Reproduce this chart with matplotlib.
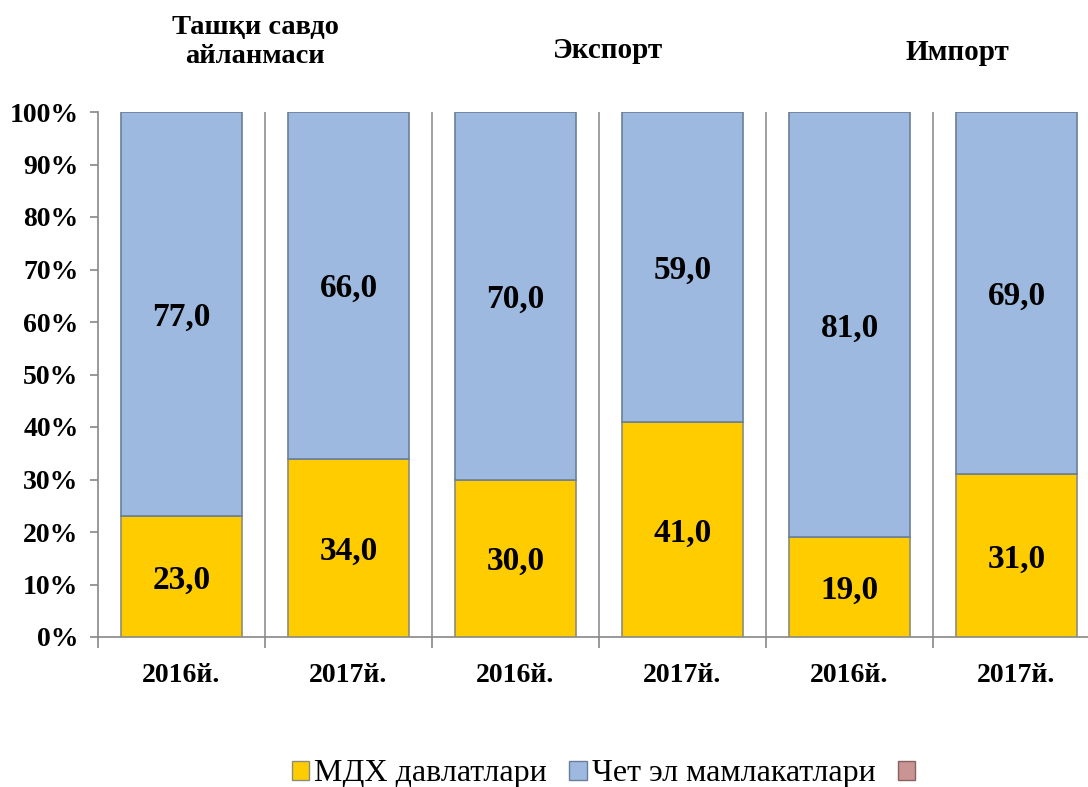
import matplotlib
matplotlib.use("Agg")
import matplotlib.pyplot as plt
from matplotlib.patches import Patch
import numpy as np

categories = ["2016й.", "2017й.", "2016й.", "2017й.", "2016й.", "2017й."]
mdh = [23.0, 34.0, 30.0, 41.0, 19.0, 31.0]
foreign = [77.0, 66.0, 70.0, 59.0, 81.0, 69.0]
group_titles = ["Ташқи савдо\nайланмаси", "Экспорт", "Импорт"]
series_names = ["МДХ давлатлари", "Чет эл мамлакатлари", ""]
yticks = [0, 10, 20, 30, 40, 50, 60, 70, 80, 90, 100]

plt.rcParams['font.family'] = ['Liberation Serif', 'DejaVu Serif']

fig = plt.figure(figsize=(10.88, 7.87), dpi=100)
ax = fig.add_axes([98/1088, 1 - 637/787, 1002/1088, 525/787])

x = np.arange(len(categories))
w = 0.72
yellow = "#FFCC00"
blue = "#9DB9E0"
ax.bar(x, mdh, width=w, color=yellow, edgecolor="#8C8C7A", linewidth=1.2, zorder=3)
ax.bar(x, foreign, width=w, bottom=mdh, color=blue, edgecolor="#6A7F9A", linewidth=1.2, zorder=3)

for i in range(len(x)):
    ax.text(x[i], mdh[i] / 2, f"{mdh[i]:.1f}".replace(".", ","), ha="center",
            va="center_baseline", fontsize=24, fontweight="bold", zorder=4)
    ax.text(x[i], mdh[i] + foreign[i] / 2, f"{foreign[i]:.1f}".replace(".", ","), ha="center",
            va="center_baseline", fontsize=24, fontweight="bold", zorder=4)

ax.set_xlim(-0.5, len(x) - 0.5)
ax.set_ylim(0, 100)
ax.set_yticks(yticks)
ax.set_yticklabels([f"{t}%" for t in yticks], fontsize=20, fontweight="bold")
ax.set_xticks(x)
ax.set_xticklabels(categories, fontsize=20, fontweight="bold")
ax.tick_params(axis="x", length=0, pad=19)
ax.tick_params(axis="y", length=6, color="#888888", width=1.2, pad=8)
ax.set_xticks(np.arange(-0.5, len(x) - 0.4, 1), minor=True)
ax.tick_params(axis="x", which="minor", length=8, color="#888888", width=1.2)
for b in np.arange(0.5, len(x) - 0.5, 1):
    ax.axvline(b, color="#999999", linewidth=1.3, zorder=1)
for s in ["top", "right"]:
    ax.spines[s].set_visible(False)
ax.spines["left"].set_color("#888888")
ax.spines["bottom"].set_color("#888888")
ax.spines["left"].set_linewidth(1.2)
ax.spines["bottom"].set_linewidth(1.2)

# group titles
fig.text(255/1088, 1 - 42/787, group_titles[0], ha="center", va="center", fontsize=20.5,
         fontweight="bold", linespacing=1.25)
fig.text(608/1088, 1 - 50/787, group_titles[1], ha="center", va="center", fontsize=21,
         fontweight="bold")
fig.text(957/1088, 1 - 52/787, group_titles[2], ha="center", va="center", fontsize=21,
         fontweight="bold")

handles = [Patch(facecolor=yellow, edgecolor="#8C8C7A"),
           Patch(facecolor=blue, edgecolor="#6A7F9A"),
           Patch(facecolor="#C99494", edgecolor="#8A6060")]
fig.legend(handles, series_names, loc="center", bbox_to_anchor=(606/1088, 1 - 774/787),
           ncol=3, frameon=False, fontsize=23, handlelength=0.55, handleheight=0.55,
           handletextpad=0.15, columnspacing=0.7)

fig.savefig("out.png", dpi=100)
